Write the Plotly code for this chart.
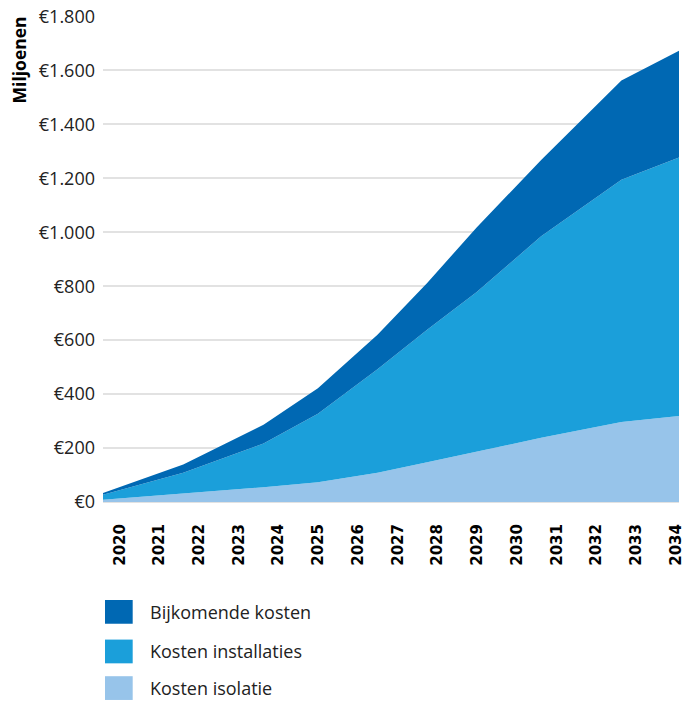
import plotly.graph_objects as go

# jaren (x-positie van de meetpunten in de bron, niet precies op hele jaren)
jaren = [2019.58, 2021.60, 2023.62, 2024.99, 2026.49, 2027.74, 2028.98, 2030.61, 2032.63, 2034.08]

# cumulatieve bovenranden per laag, in miljoenen euro
totaal = [33, 139, 286, 422, 620, 812, 1017, 1268, 1563, 1673]
tot_installaties = [27, 108, 217, 327, 492, 639, 778, 985, 1195, 1277]
isolatie = [8, 31, 55, 73, 108, 147, 187, 238, 297, 319]

installaties = [m - i for m, i in zip(tot_installaties, isolatie)]
bijkomend = [t - m for t, m in zip(totaal, tot_installaties)]

series_namen = ['Kosten isolatie', 'Kosten installaties', 'Bijkomende kosten']
series_waarden = [isolatie, installaties, bijkomend]
kleuren = ['#97c4ea', '#1b9fda', '#0068b3']

tick_jaren = list(range(2020, 2035))
y_ticks = [0, 200, 400, 600, 800, 1000, 1200, 1400, 1600, 1800]
y_labels = ['€0', '€200', '€400', '€600', '€800', '€1.000', '€1.200', '€1.400', '€1.600', '€1.800']

fig = go.Figure()
for naam, waarden, kleur in zip(series_namen, series_waarden, kleuren):
    fig.add_trace(go.Scatter(x=jaren, y=waarden, name=naam, mode='lines',
                             stackgroup='een', line=dict(width=0, color=kleur),
                             fillcolor=kleur, showlegend=False))

fig.update_layout(
    width=689, height=703,
    margin=dict(l=103, r=4, t=11, b=201),
    paper_bgcolor='white', plot_bgcolor='white',
    font=dict(family='Open Sans', color='#222222'),
)

fig.update_xaxes(range=[2019.58, 2034.08], tickvals=tick_jaren, ticktext=[str(j) for j in tick_jaren],
                 tickangle=-90, tickfont=dict(family='DejaVu Sans', size=15, color='black', weight='bold'),
                 showgrid=False, zeroline=False, ticks='', ticklabelstandoff=18,
                 ticklabeloverflow='allow')
fig.update_yaxes(range=[0, 1802], tickvals=y_ticks, ticktext=y_labels,
                 tickfont=dict(family='Open Sans', size=18, color='#222222'),
                 showgrid=True, gridcolor='#e2e2e2', gridwidth=1.5, zeroline=True,
                 zerolinecolor='#e2e2e2', zerolinewidth=1.5, ticks='', ticklabelstandoff=7,
                 ticklabeloverflow='allow')

fig.add_annotation(text='<b>Miljoenen</b>', textangle=-90, xref='paper', yref='paper',
                   x=-0.146, y=1.004, xanchor='center', yanchor='top', showarrow=False,
                   font=dict(family='Open Sans', size=17.5, color='black'))

# legenda onder de grafiek, zelf opgebouwd (omgekeerde volgorde, grote vlakken)
legenda_y = [613, 653, 690]
for naam, kleur, py in zip(series_namen[::-1], kleuren[::-1], legenda_y):
    fig.add_shape(type='rect', xref='paper', yref='paper',
                  x0=(105 - 103) / 582, x1=(133 - 103) / 582,
                  y0=(502 - py - 12) / 491, y1=(502 - py + 12) / 491,
                  fillcolor=kleur, line=dict(width=0))
    fig.add_annotation(text=naam, xref='paper', yref='paper', x=(148 - 103) / 582,
                       y=(502 - py) / 491, xanchor='left', yanchor='middle', showarrow=False,
                       font=dict(family='Open Sans', size=18, color='#222222'))

# body-marge van de pagina weg, zodat de figuur precies in het venster valt
fig.write_html('out.html', config={'displayModeBar': False},
               post_script="document.body.style.margin='0';")
